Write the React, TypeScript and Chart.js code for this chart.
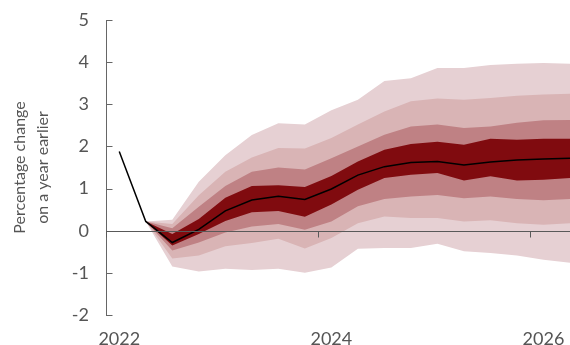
import React, { useEffect, useRef } from "react";
import { Chart, registerables } from "chart.js";

Chart.register(...registerables);

const quarters = [
  "2022 Q1", "2022 Q2", "2022 Q3", "2022 Q4",
  "2023 Q1", "2023 Q2", "2023 Q3", "2023 Q4",
  "2024 Q1", "2024 Q2", "2024 Q3", "2024 Q4",
  "2025 Q1", "2025 Q2", "2025 Q3", "2025 Q4",
  "2026 Q1", "2026 Q2",
];

const tickYears = ["2022", "2024", "2026"];

const central = [1.88, 0.22, -0.28, 0.03, 0.47, 0.73, 0.82, 0.74, 0.99, 1.32, 1.52, 1.62, 1.64, 1.56, 1.63, 1.68, 1.70, 1.72];

const darkTop = [null, 0.22, -0.08, 0.28, 0.78, 1.06, 1.08, 1.04, 1.30, 1.64, 1.92, 2.06, 2.11, 2.04, 2.18, 2.16, 2.18, 2.18];
const darkBottom = [null, 0.22, -0.35, -0.08, 0.23, 0.44, 0.47, 0.33, 0.62, 0.97, 1.25, 1.33, 1.37, 1.19, 1.29, 1.19, 1.21, 1.25];
const midTop = [null, 0.22, 0.06, 0.57, 1.06, 1.40, 1.50, 1.45, 1.72, 2.00, 2.28, 2.47, 2.52, 2.44, 2.47, 2.56, 2.62, 2.63];
const midBottom = [null, 0.22, -0.47, -0.28, -0.04, 0.10, 0.16, 0.02, 0.22, 0.58, 0.75, 0.81, 0.85, 0.77, 0.81, 0.75, 0.72, 0.75];
const secondTop = [null, 0.22, 0.16, 0.84, 1.40, 1.74, 1.96, 1.95, 2.20, 2.52, 2.83, 3.07, 3.14, 3.11, 3.15, 3.20, 3.23, 3.25];
const secondBottom = [null, 0.22, -0.66, -0.59, -0.37, -0.29, -0.19, -0.42, -0.17, 0.18, 0.34, 0.30, 0.30, 0.22, 0.25, 0.18, 0.14, 0.18];
const outerTop = [null, 0.22, 0.26, 1.16, 1.79, 2.27, 2.55, 2.52, 2.86, 3.11, 3.55, 3.62, 3.86, 3.86, 3.93, 3.96, 3.98, 3.96];
const outerBottom = [null, 0.22, -0.85, -0.97, -0.90, -0.93, -0.90, -1.00, -0.87, -0.43, -0.41, -0.41, -0.31, -0.49, -0.53, -0.59, -0.69, -0.76];

const Y_MIN = -2;
const Y_MAX = 5;

const COLORS = {
  dark: "#800b0f",
  mid: "#bf8184",
  second: "#d9b4b5",
  outer: "#e6d0d3",
  line: "#000000",
  axis: "#666666",
  zero: "#595959",
  text: "#555555",
};

const FONT = "Lato, 'Noto Sans', sans-serif";

function toPoints(arr: (number | null)[]) {
  return arr
    .map((v, i) => (v === null ? null : { x: i, y: v }))
    .filter((p) => p !== null) as { x: number; y: number }[];
}

function band(data: (number | null)[], color: string, fill: any) {
  return {
    data: toPoints(data),
    borderWidth: 0,
    borderColor: "rgba(0,0,0,0)",
    backgroundColor: color,
    pointRadius: 0,
    tension: 0,
    fill,
  };
}

const axesPlugin = {
  id: "fanAxes",
  afterDatasetsDraw(chart: any) {
    const { ctx, chartArea, scales } = chart;
    const x = scales.x;
    const y = scales.y;
    ctx.save();
    ctx.lineWidth = 1;
    ctx.strokeStyle = COLORS.axis;
    const xl = Math.round(chartArea.left) + 0.5;
    ctx.beginPath();
    ctx.moveTo(xl, Math.round(y.getPixelForValue(Y_MAX)));
    ctx.lineTo(xl, Math.round(y.getPixelForValue(Y_MIN)) + 1);
    for (const t of y.ticks) {
      const py = Math.round(y.getPixelForValue(t.value)) + 0.5;
      ctx.moveTo(xl, py);
      ctx.lineTo(xl + 6, py);
    }
    ctx.stroke();

    const y0 = Math.round(y.getPixelForValue(0)) + 0.5;
    ctx.strokeStyle = COLORS.zero;
    ctx.beginPath();
    ctx.moveTo(chartArea.left, y0);
    ctx.lineTo(chartArea.right, y0);
    for (const t of x.ticks) {
      const px = Math.round(x.getPixelForValue(t.value - 0.5)) + 0.5;
      ctx.moveTo(px, y0);
      ctx.lineTo(px, y0 + 6);
    }
    ctx.stroke();
    ctx.restore();
  },
};

export default function App() {
  const ref = useRef<HTMLCanvasElement | null>(null);

  useEffect(() => {
    document.body.style.margin = "0";
    if (!ref.current) return;
    const chart = new Chart(ref.current, {
      type: "line",
      data: {
        datasets: [
          {
            label: "Central projection",
            data: toPoints(central),
            borderColor: COLORS.line,
            borderWidth: 1.5,
            pointRadius: 0,
            tension: 0,
            fill: false,
          } as any,
          band(darkTop, COLORS.dark, "+1"),
          band(darkBottom, COLORS.dark, false),
          band(midTop, COLORS.mid, "+1"),
          band(midBottom, COLORS.mid, false),
          band(secondTop, COLORS.second, "+1"),
          band(secondBottom, COLORS.second, false),
          band(outerTop, COLORS.outer, "+1"),
          band(outerBottom, COLORS.outer, false),
        ],
      },
      options: {
        animation: false,
        responsive: false,
        layout: { padding: { top: 20, left: 0, right: 0, bottom: 0 } },
        plugins: {
          legend: { display: false },
          tooltip: { enabled: false },
        },
        scales: {
          x: {
            type: "linear",
            min: -0.5,
            max: quarters.length - 1,
            grid: { display: false },
            border: { display: false },
            afterBuildTicks: (scale: any) => {
              scale.ticks = tickYears.map((yr) => ({
                value: quarters.indexOf(yr + " Q1"),
              }));
            },
            afterFit: (scale: any) => {
              scale.height = 30;
              scale.paddingLeft = 0;
              scale.paddingRight = 0;
            },
            ticks: {
              autoSkip: false,
              maxRotation: 0,
              padding: 5,
              color: COLORS.text,
              font: { family: FONT, size: 18 },
              callback: (v: any) => quarters[v as number].slice(0, 4),
            },
          },
          y: {
            min: Y_MIN,
            max: Y_MAX,
            grid: { display: false, drawTicks: false },
            border: { display: false },
            afterFit: (scale: any) => {
              scale.width = 106;
              scale.paddingTop = 0;
              scale.paddingBottom = 0;
            },
            ticks: {
              stepSize: 1,
              padding: 17,
              color: COLORS.text,
              font: { family: FONT, size: 18 },
            },
            title: {
              display: true,
              text: ["Percentage change", "on a year earlier"],
              color: COLORS.text,
              font: { family: FONT, size: 16, lineHeight: 1.45 },
              padding: { top: 8, bottom: 0 },
            },
          },
        },
      },
      plugins: [axesPlugin],
    } as any);
    return () => chart.destroy();
  }, []);

  return (
    <div style={{ width: 570, height: 345 }}>
      <canvas ref={ref} width={570} height={345} style={{ display: "block" }} />
    </div>
  );
}
